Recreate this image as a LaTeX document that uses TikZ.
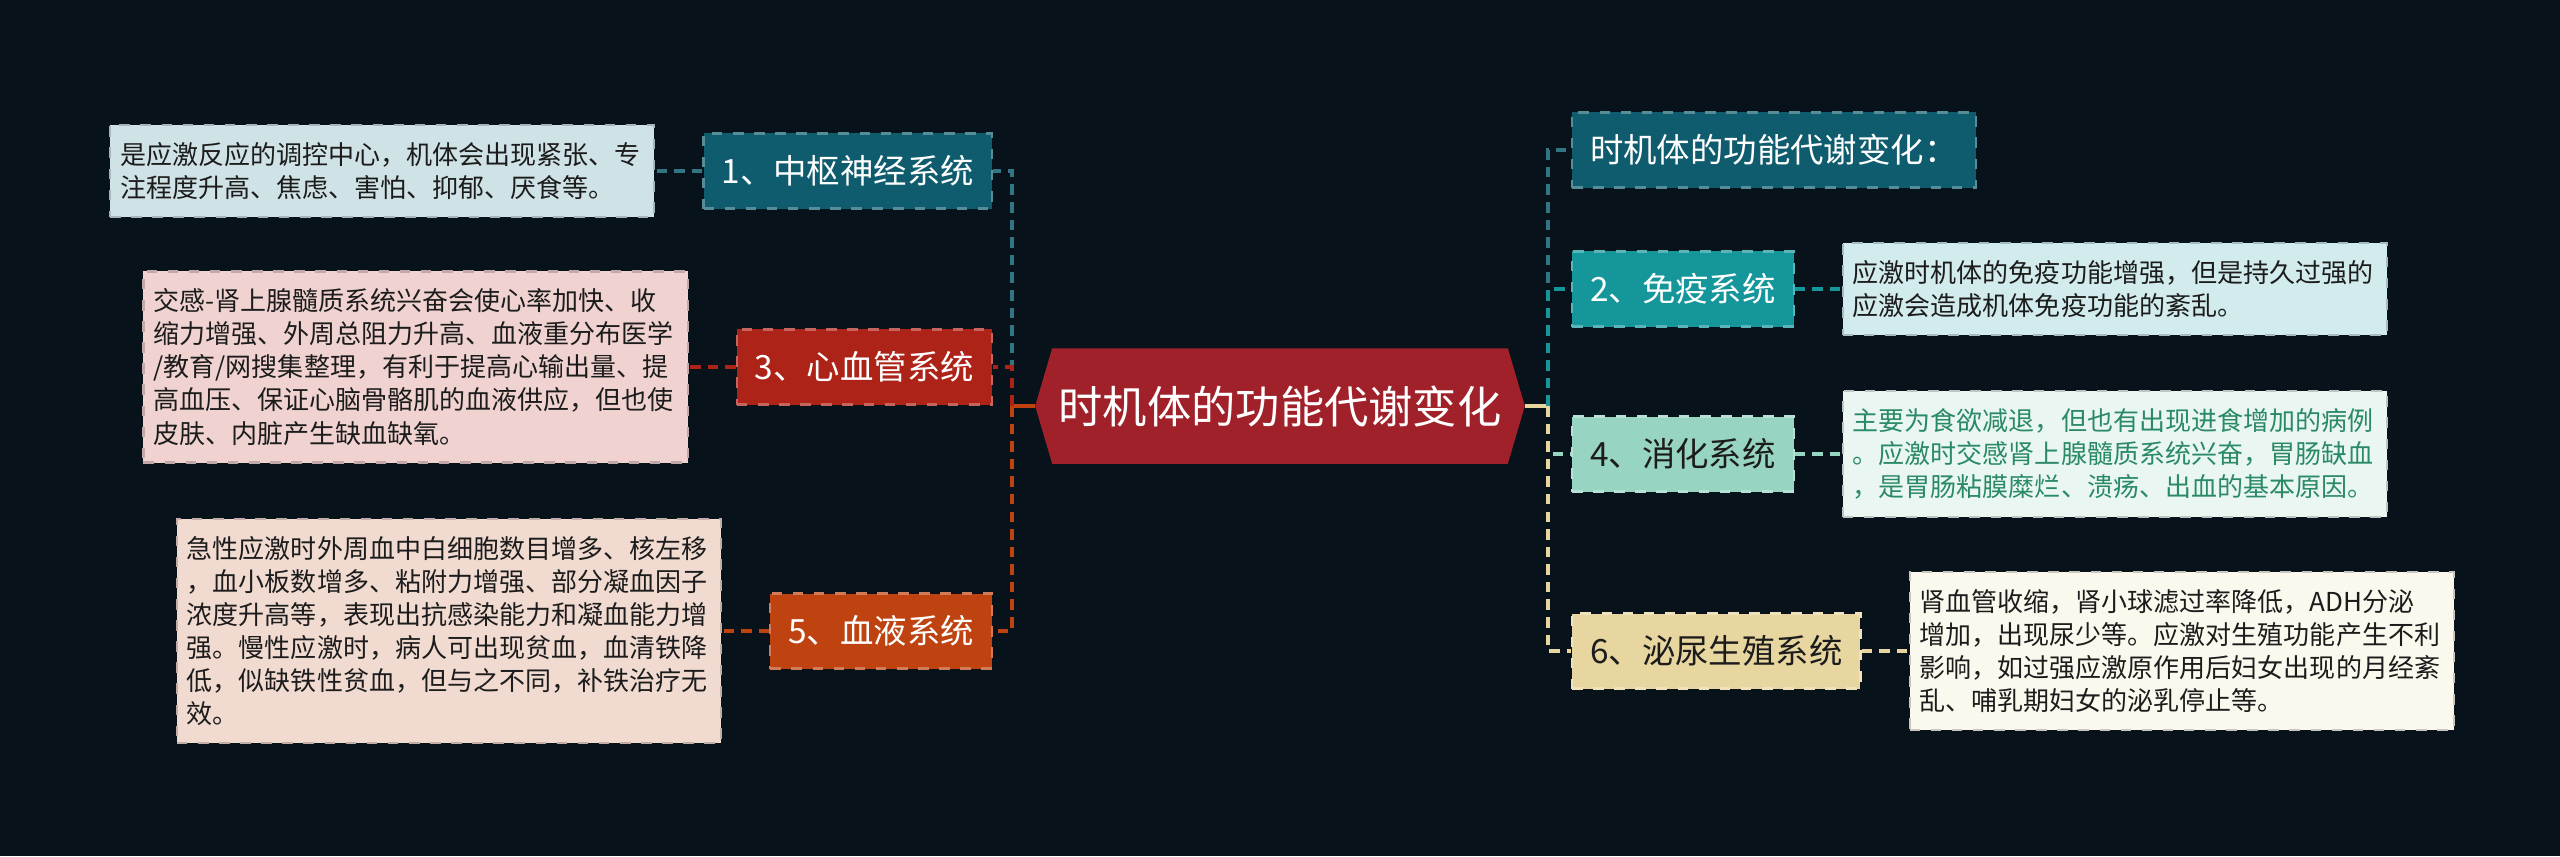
\documentclass[tikz,border=0pt]{standalone}
\usepackage{fontspec}
\setmainfont{Noto Sans CJK SC}
\usetikzlibrary{positioning}
\pgfdeclarelayer{canvas}
\pgfdeclarelayer{background}
\pgfsetlayers{canvas,background,main}
\definecolor{BgDark}{HTML}{07121A}
\definecolor{HubRed}{HTML}{A0212A}
\definecolor{NeuroTeal}{HTML}{0E5C6E}
\definecolor{NeuroLeaf}{HTML}{CFE2E5}
\definecolor{CardioRed}{HTML}{AE2318}
\definecolor{CardioLeaf}{HTML}{F0D3D1}
\definecolor{BloodOrange}{HTML}{BE4311}
\definecolor{BloodLeaf}{HTML}{F1DBD1}
\definecolor{ImmuneTeal}{HTML}{14969A}
\definecolor{ImmuneLeaf}{HTML}{D2EBEC}
\definecolor{DigestMint}{HTML}{97D4C1}
\definecolor{DigestLeaf}{HTML}{EAF6F2}
\definecolor{DigestText}{HTML}{2A8A66}
\definecolor{UroCream}{HTML}{E8D6A0}
\definecolor{UroLeaf}{HTML}{FBF8EE}
\definecolor{InkDark}{HTML}{1C1C1C}
\tikzstyle{HubNode}=[rectangle, text=white, minimum width=4.54cm, minimum height=1.14cm, inner sep=0pt, font=\fontsize{12.6}{15}\selectfont]
\tikzstyle{SysNode}=[rectangle, dashed, line width=0.6pt, minimum height=0.75cm, inner xsep=0.18cm, font=\fontsize{9.5}{11}\selectfont]
\tikzstyle{NoteBox}=[rectangle, dashed, line width=0.6pt, text width=5.24cm, inner xsep=0.1cm, inner ysep=4.9pt, align=left, text=InkDark, font=\fontsize{7.4}{9.4}\selectfont]
\tikzstyle{Link}=[dash pattern=on 3pt off 2pt, line width=1pt]
\tikzstyle{Stub}=[line width=1.2pt]

\begin{document}
\begin{tikzpicture}[x=0.01cm, y=-0.01cm]
	\useasboundingbox (0,0) rectangle (2560,856);
	\begin{pgfonlayer}{canvas}
		\fill[BgDark] (0,0) rectangle (2560,856);
	\end{pgfonlayer}

	%Nodes
	\node[HubNode]	(hub)	at (1280,406)	{时机体的功能代谢变化};
	\coordinate[left=0.17cm of hub.west]	(hubL);
	\coordinate[right=0.17cm of hub.east]	(hubR);
	\begin{pgfonlayer}{background}
		\fill[HubRed] (hub.north west) -- (hub.north east) -- (hubR) -- (hub.south east) -- (hub.south west) -- (hubL) -- cycle;
	\end{pgfonlayer}
	\coordinate	(ltrunk)	at (1012,406);
	\coordinate	(rtrunk)	at (1548,406);

	\node[SysNode, fill=NeuroTeal, draw=NeuroTeal!70!white, text=white, anchor=east]	(neuro)	at (993,171)	{1、中枢神经系统};
	\node[NoteBox, fill=NeuroLeaf, draw=NeuroLeaf!80!black]	(neuroNote)	[left=0.47cm of neuro]	{是应激反应的调控中心，机体会出现紧张、专\\注程度升高、焦虑、害怕、抑郁、厌食等。};

	\node[SysNode, fill=CardioRed, draw=CardioRed!70!white, text=white, anchor=east]	(cardio)	at (993,367)	{3、心血管系统};
	\node[NoteBox, fill=CardioLeaf, draw=CardioLeaf!80!black]	(cardioNote)	[left=0.47cm of cardio]	{交感-肾上腺髓质系统兴奋会使心率加快、收\\缩力增强、外周总阻力升高、血液重分布医学\\/教育/网搜集整理，有利于提高心输出量、提\\高血压、保证心脑骨骼肌的血液供应，但也使\\皮肤、内脏产生缺血缺氧。};

	\node[SysNode, fill=BloodOrange, draw=BloodOrange!70!white, text=white, anchor=east]	(blood)	at (993,631)	{5、血液系统};
	\node[NoteBox, fill=BloodLeaf, draw=BloodLeaf!80!black]	(bloodNote)	[left=0.47cm of blood]	{急性应激时外周血中白细胞数目增多、核左移\\，血小板数增多、粘附力增强、部分凝血因子\\浓度升高等，表现出抗感染能力和凝血能力增\\强。慢性应激时，病人可出现贫血，血清铁降\\低，似缺铁性贫血，但与之不同，补铁治疗无\\效。};

	\node[SysNode, fill=NeuroTeal, draw=NeuroTeal!70!white, text=white, anchor=west]	(title)	at (1571,150)	{时机体的功能代谢变化：};

	\node[SysNode, fill=ImmuneTeal, draw=ImmuneTeal!70!white, text=white, anchor=west]	(immune)	at (1571,289)	{2、免疫系统};
	\node[NoteBox, fill=ImmuneLeaf, draw=ImmuneLeaf!80!black]	(immuneNote)	[right=0.47cm of immune]	{应激时机体的免疫功能增强，但是持久过强的\\应激会造成机体免疫功能的紊乱。};

	\node[SysNode, fill=DigestMint, draw=DigestMint!70!white, text=InkDark, anchor=west]	(digest)	at (1571,454)	{4、消化系统};
	\node[NoteBox, fill=DigestLeaf, draw=DigestLeaf!80!black, text=DigestText]	(digestNote)	[right=0.47cm of digest]	{主要为食欲减退，但也有出现进食增加的病例\\。应激时交感肾上腺髓质系统兴奋，胃肠缺血\\，是胃肠粘膜糜烂、溃疡、出血的基本原因。};

	\node[SysNode, fill=UroCream, draw=UroCream!70!white, text=InkDark, anchor=west]	(uro)	at (1571,651)	{6、泌尿生殖系统};
	\node[NoteBox, fill=UroLeaf, draw=UroLeaf!80!black]	(uroNote)	[right=0.47cm of uro]	{肾血管收缩，肾小球滤过率降低，ADH分泌\\增加，出现尿少等。应激对生殖功能产生不利\\影响，如过强应激原作用后妇女出现的月经紊\\乱、哺乳期妇女的泌乳停止等。};

	%Lines
	\draw[Stub, BloodOrange] (hubL) -- (ltrunk);
	\draw[Stub, UroCream] (hubR) -- (rtrunk);

	\draw[Link, NeuroTeal!85!white] (ltrunk) |- (neuro.east);
	\draw[Link, CardioRed] (ltrunk) |- (cardio.east);
	\draw[Link, BloodOrange] (ltrunk) |- (blood.east);
	\draw[Link, NeuroTeal!85!white] (neuro.west) -- (neuroNote.east);
	\draw[Link, CardioRed] (cardio.west) -- (cardioNote.east);
	\draw[Link, BloodOrange] (blood.west) -- (bloodNote.east);

	\draw[Link, NeuroTeal!85!white] (rtrunk) |- (title.west);
	\draw[Link, ImmuneTeal] (rtrunk) |- (immune.west);
	\draw[Link, DigestMint] (rtrunk) |- (digest.west);
	\draw[Link, UroCream] (rtrunk) |- (uro.west);
	\draw[Link, ImmuneTeal] (immune.east) -- (immuneNote.west);
	\draw[Link, DigestMint] (digest.east) -- (digestNote.west);
	\draw[Link, UroCream] (uro.east) -- (uroNote.west);

\end{tikzpicture}
\end{document}
